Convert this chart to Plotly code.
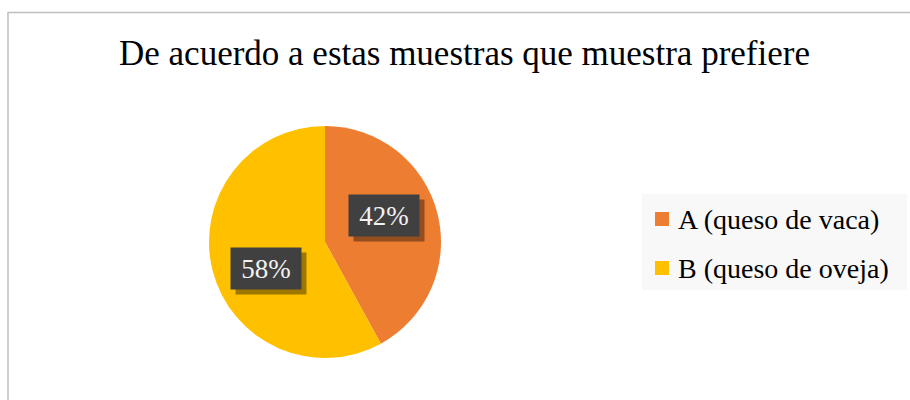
import math
import plotly.graph_objects as go

# Survey data
categories = ["A (queso de vaca)", "B (queso de oveja)"]
shares = [42, 58]
colors = ["#ED7D31", "#FFC000"]
title_text = "De acuerdo a estas muestras que muestra prefiere"

W, H = 910, 400
FONT = "Liberation Serif, Times New Roman, serif"

# Pie placement in pixels
cx, cy, R = 325, 242, 116


def px(x):
    return x / W


def py(y):
    return 1 - y / H


fig = go.Figure()
fig.add_trace(go.Pie(
    labels=categories,
    values=shares,
    marker=dict(colors=colors, line=dict(width=0)),
    sort=False,
    direction="clockwise",
    rotation=0,
    textinfo="none",
    hoverinfo="label+percent",
    showlegend=False,
    domain=dict(x=[px(cx - R), px(cx + R)], y=[py(cy + R), py(cy - R)]),
))

annotations = []
shapes = []

# Data labels in dark boxes with a drop shadow, placed along each slice's mid-angle
total = sum(shares)
start = 0.0
label_r = 0.56 * R
angle_offset = -10  # degrees
for val in shares:
    frac = val / total
    mid = (start + frac / 2) * 360 + angle_offset
    start += frac
    th = math.radians(mid)
    lx = cx + label_r * math.sin(th)
    ly = cy - label_r * math.cos(th)
    pct = f"{round(frac * 100)}%"
    common = dict(x=px(lx), y=py(ly), xref="paper", yref="paper",
                  showarrow=False, width=70, height=41, borderpad=0,
                  xanchor="center", yanchor="middle")
    annotations.append(dict(text=" ", bgcolor="rgba(0,0,0,0.38)",
                            xshift=5, yshift=-5,
                            font=dict(family=FONT, size=27), **common))
    annotations.append(dict(text=pct, bgcolor="#404040",
                            font=dict(family=FONT, size=27, color="#F2F2F2"), **common))

# Title
annotations.append(dict(text=title_text, x=px(465), y=py(53), xref="paper", yref="paper",
                        showarrow=False, xanchor="center", yanchor="middle",
                        font=dict(family=FONT, size=35, color="#000000")))

# Legend panel
shapes.append(dict(type="rect", xref="paper", yref="paper",
                   x0=px(642), x1=px(907), y0=py(290), y1=py(194),
                   fillcolor="#F8F8F8", line=dict(width=0), layer="below"))
row_y = [219, 268]
for name, col, yy in zip(categories, colors, row_y):
    shapes.append(dict(type="rect", xref="paper", yref="paper",
                       x0=px(655), x1=px(669), y0=py(yy + 7), y1=py(yy - 7),
                       fillcolor=col, line=dict(width=0)))
    annotations.append(dict(text=name, x=px(676), y=py(yy), xref="paper", yref="paper",
                            showarrow=False, xanchor="left", yanchor="middle",
                            font=dict(family=FONT, size=28, color="#000000")))

# Chart frame
shapes.append(dict(type="rect", xref="paper", yref="paper",
                   x0=px(8), x1=px(920), y0=py(420), y1=py(12.5),
                   line=dict(color="#BFBFBF", width=1.5), fillcolor="rgba(0,0,0,0)"))

fig.update_layout(
    width=W, height=H,
    margin=dict(l=0, r=0, t=0, b=0),
    paper_bgcolor="#FFFFFF",
    plot_bgcolor="#FFFFFF",
    showlegend=False,
    annotations=annotations,
    shapes=shapes,
)

fig.write_html("out.html")
